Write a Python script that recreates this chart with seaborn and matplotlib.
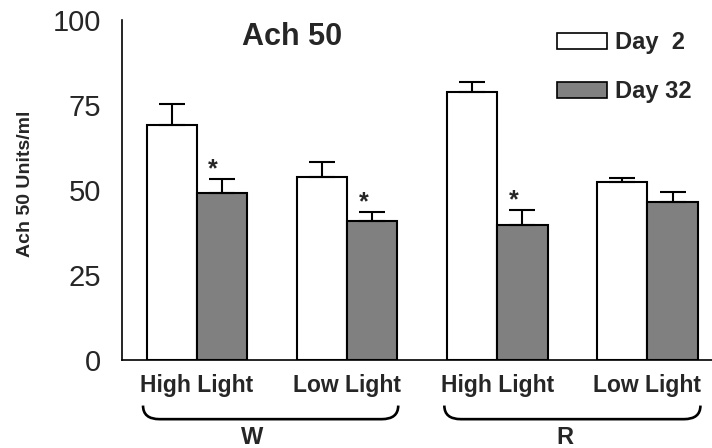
import numpy as np
import pandas as pd
import matplotlib
matplotlib.use("Agg")
import matplotlib.pyplot as plt
import matplotlib.transforms as mtransforms
from matplotlib.path import Path
from matplotlib.patches import PathPatch, Patch
import seaborn as sns

# ---- data ----
categories = ["W High Light", "W Low Light", "R High Light", "R Low Light"]
tick_labels = ["High Light", "Low Light", "High Light", "Low Light"]
series = ["Day  2", "Day 32"]
day2 = [69.1, 53.8, 78.9, 52.4]
day32 = [49.1, 41.0, 39.7, 46.5]
day2_err = [6.2, 4.5, 2.9, 1.1]
day32_err = [4.1, 2.5, 4.4, 2.9]
significant32 = [True, True, True, False]
groups = ["W", "R"]
yticks = [0, 25, 50, 75, 100]
title = "Ach 50"
ylabel = "Ach 50 Units/ml"

df = pd.DataFrame({
    "category": categories * 2,
    "day": [series[0]] * 4 + [series[1]] * 4,
    "value": day2 + day32,
})

sns.set_theme(style="white")
plt.rcParams["font.family"] = ["Liberation Sans", "DejaVu Sans"]

fig = plt.figure(figsize=(7.12, 4.48), dpi=100)
ax = fig.add_axes([122 / 712, 1 - 360 / 448, 1 - 122 / 712, 340 / 448])

sns.barplot(data=df, x="category", y="value", hue="day", order=categories,
            hue_order=series, palette=["white", "#808080"], edgecolor="black",
            linewidth=1.5, width=0.67, errorbar=None, ax=ax, legend=False,
            saturation=1)

for cont, vals, errs, sig in zip(ax.containers, [day2, day32], [day2_err, day32_err],
                                 [[False] * 4, significant32]):
    xs = [b.get_x() + b.get_width() / 2 for b in cont]
    ax.errorbar(xs, vals, yerr=[np.zeros(len(vals)), errs], fmt="none",
                ecolor="black", elinewidth=1.5, capsize=9.5, capthick=1.5, zorder=1)
    for x, v, e, s in zip(xs, vals, errs, sig):
        if s:
            ax.text(x - 0.06, v + e + 0.8, "*", ha="center", va="baseline",
                    fontsize=18, fontweight="bold")

ax.set_ylim(0, 100)
ax.set_xlim(-0.5, 3.43)
ax.set_yticks(yticks)
ax.set_yticklabels([str(t) for t in yticks], fontsize=21)
ax.set_xticks(range(len(categories)))
ax.set_xticklabels(tick_labels, fontsize=16.5, fontweight="bold")
ax.tick_params(axis="y", length=0, pad=15)
ax.tick_params(axis="x", length=0, pad=10)
ax.set_xlabel("")
ax.set_ylabel("")
for s in ["top", "right"]:
    ax.spines[s].set_visible(False)
for s in ["left", "bottom"]:
    ax.spines[s].set_color("black")
    ax.spines[s].set_linewidth(1.2)

fig.text(26 / 712, 1 - 184 / 448, ylabel, rotation=90, ha="center", va="center",
         fontsize=14, fontweight="bold")
ax.text(0.633, 95, title, ha="center", va="center", fontsize=22, fontweight="bold")

# legend
handles = [Patch(facecolor="white", edgecolor="black", linewidth=1.2),
           Patch(facecolor="#808080", edgecolor="black", linewidth=1.2)]
ax.legend(handles, series, loc="upper left", bbox_to_anchor=(557 / 712, 1 - 31 / 448),
          bbox_transform=fig.transFigure, frameon=False, borderpad=0, borderaxespad=0,
          handlelength=2.1, handleheight=0.68, handletextpad=0.35, labelspacing=1.1,
          prop={"weight": "bold", "size": 17})

# braces under groups
trans = mtransforms.blended_transform_factory(ax.transData, ax.transAxes)
yt, yb = -0.134, -0.174
dx = 0.11
for (x0, x1), lab, lx in zip([(-0.36, 1.34), (1.647, 3.353)], groups, [0.367, 2.453]):
    verts = [(x0, yt), (x0, yb), (x0 + dx, yb), (x1 - dx, yb), (x1, yb), (x1, yt)]
    codes = [Path.MOVETO, Path.CURVE3, Path.CURVE3, Path.LINETO, Path.CURVE3, Path.CURVE3]
    ax.add_patch(PathPatch(Path(verts, codes), facecolor="none", edgecolor="black",
                           linewidth=1.9, transform=trans, clip_on=False))
    ax.text(lx, -0.228, lab, transform=trans, ha="center", va="center",
            fontsize=17, fontweight="bold")

fig.savefig("out.png", dpi=100)
